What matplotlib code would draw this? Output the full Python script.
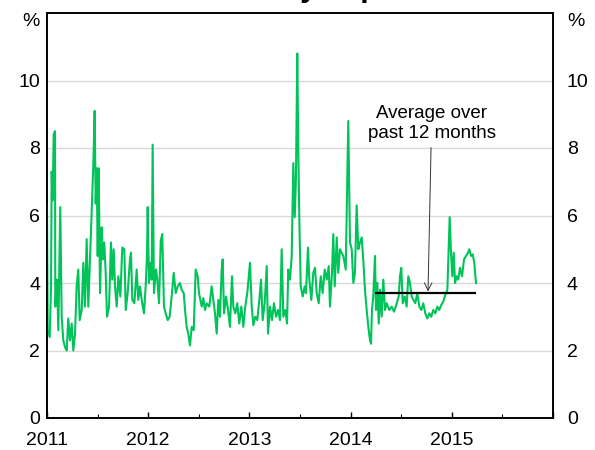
import numpy as np
import matplotlib
matplotlib.use('Agg')
import matplotlib.pyplot as plt

plt.rcParams['font.family'] = ['Liberation Sans', 'DejaVu Sans']

# Data
base_year = 2011
# time in years since the start of 2011
t_years = [
    0.000, 0.007, 0.027, 0.040, 0.046, 0.056, 0.066, 0.079, 0.082, 0.099,
    0.112, 0.131, 0.145, 0.161, 0.178, 0.195, 0.210, 0.227, 0.244, 0.260,
    0.277, 0.293, 0.309, 0.323, 0.343, 0.359, 0.375, 0.392, 0.408, 0.425,
    0.442, 0.458, 0.471, 0.481, 0.491, 0.501, 0.511, 0.524, 0.541, 0.553,
    0.566, 0.580, 0.593, 0.613, 0.632, 0.645, 0.659, 0.672, 0.689, 0.705,
    0.725, 0.744, 0.764, 0.778, 0.797, 0.820, 0.830, 0.843, 0.863, 0.886,
    0.902, 0.919, 0.936, 0.958, 0.975, 0.988, 0.995, 1.008, 1.021, 1.035,
    1.044, 1.057, 1.077, 1.090, 1.107, 1.124, 1.139, 1.156, 1.173, 1.193,
    1.212, 1.232, 1.252, 1.272, 1.292, 1.314, 1.331, 1.351, 1.364, 1.380,
    1.396, 1.413, 1.430, 1.450, 1.469, 1.489, 1.502, 1.529, 1.545, 1.561,
    1.578, 1.604, 1.627, 1.643, 1.660, 1.677, 1.693, 1.709, 1.726, 1.736,
    1.749, 1.769, 1.789, 1.808, 1.828, 1.841, 1.861, 1.880, 1.900, 1.920,
    1.940, 1.959, 1.979, 2.006, 2.023, 2.039, 2.058, 2.078, 2.098, 2.115,
    2.131, 2.151, 2.171, 2.184, 2.204, 2.223, 2.243, 2.263, 2.283, 2.302,
    2.319, 2.335, 2.355, 2.372, 2.384, 2.401, 2.418, 2.434, 2.448, 2.460,
    2.473, 2.483, 2.493, 2.507, 2.527, 2.546, 2.559, 2.579, 2.592, 2.612,
    2.631, 2.648, 2.665, 2.685, 2.705, 2.724, 2.744, 2.764, 2.784, 2.796,
    2.816, 2.829, 2.843, 2.863, 2.878, 2.895, 2.928, 2.952, 2.977, 2.994,
    3.011, 3.027, 3.043, 3.060, 3.076, 3.093, 3.110, 3.125, 3.142, 3.159,
    3.175, 3.192, 3.202, 3.211, 3.224, 3.241, 3.251, 3.264, 3.278, 3.291,
    3.307, 3.323, 3.340, 3.357, 3.382, 3.406, 3.429, 3.456, 3.475, 3.488,
    3.501, 3.515, 3.535, 3.554, 3.570, 3.587, 3.604, 3.620, 3.639, 3.659,
    3.679, 3.699, 3.718, 3.738, 3.758, 3.778, 3.797, 3.817, 3.837, 3.857,
    3.876, 3.896, 3.916, 3.936, 3.956, 3.969, 3.979, 3.992, 4.005, 4.019,
    4.032, 4.048, 4.064, 4.081, 4.101, 4.121, 4.140, 4.160, 4.173, 4.190,
    4.207, 4.222, 4.239,
]
vol = [
    6.3, 2.6, 2.4, 3.9, 7.3, 6.45, 8.4, 8.5, 3.3, 4.1,
    2.6, 6.25, 3.0, 2.3, 2.1, 2.0, 2.95, 2.3, 2.8, 2.0,
    2.5, 3.9, 4.4, 2.9, 3.2, 4.6, 3.3, 5.3, 3.3, 4.7,
    6.15, 7.55, 9.1, 6.35, 7.4, 4.8, 7.4, 3.7, 5.65, 4.7,
    5.2, 4.3, 3.0, 3.3, 5.2, 4.1, 5.0, 3.9, 3.3, 4.2,
    3.6, 5.05, 5.0, 3.2, 3.7, 4.7, 4.9, 3.5, 3.4, 4.4,
    3.5, 3.9, 3.5, 3.1, 3.9, 4.8, 6.25, 4.0, 4.6, 4.1,
    8.1, 3.7, 4.4, 4.1, 3.4, 5.25, 5.45, 3.3, 3.1, 2.9,
    3.0, 3.6, 4.3, 3.7, 3.9, 4.0, 3.8, 3.7, 3.2, 2.7,
    2.5, 2.15, 2.7, 2.6, 4.4, 4.2, 3.7, 3.3, 3.55, 3.2,
    3.4, 3.3, 3.9, 3.5, 3.1, 2.5, 3.5, 3.0, 4.4, 4.7,
    3.1, 3.6, 3.2, 2.7, 4.2, 3.3, 3.1, 3.4, 2.8, 3.3,
    2.7, 3.3, 3.7, 4.6, 3.3, 2.75, 3.0, 2.9, 3.5, 4.1,
    2.9, 3.4, 4.5, 2.5, 3.3, 2.9, 3.4, 3.0, 3.2, 2.9,
    5.0, 3.0, 3.2, 2.8, 4.4, 4.1, 4.8, 7.55, 5.95, 7.1,
    10.8, 8.0, 5.95, 3.9, 3.6, 3.9, 3.7, 5.05, 4.1, 3.5,
    4.3, 4.45, 3.7, 3.4, 4.2, 3.7, 4.4, 4.1, 4.5, 3.3,
    4.3, 5.45, 3.9, 5.35, 4.3, 5.0, 4.8, 4.4, 8.8, 5.2,
    5.0, 4.0, 4.3, 6.3, 5.0, 5.2, 5.35, 4.7, 3.8, 3.2,
    2.7, 2.3, 2.2, 3.2, 3.6, 4.8, 3.2, 4.0, 2.8, 3.8,
    3.0, 4.1, 3.2, 3.4, 3.2, 3.3, 3.15, 3.4, 3.6, 4.2,
    4.45, 3.4, 3.6, 3.3, 4.2, 4.0, 3.6, 3.5, 3.4, 3.7,
    3.3, 3.2, 3.4, 3.1, 2.95, 3.1, 3.0, 3.2, 3.1, 3.3,
    3.2, 3.35, 3.45, 3.65, 3.8, 5.0, 5.95, 4.9, 4.2, 4.9,
    4.0, 4.2, 4.1, 4.45, 4.2, 4.7, 4.8, 4.9, 5.0, 4.8,
    4.85, 4.6, 4.0,
]
avg_start, avg_end = 2014.24, 2015.24
avg_value = 3.7

year_ticks = [2011, 2012, 2013, 2014, 2015, 2016]
year_labels = ['2011', '2012', '2013', '2014', '2015', '']
y_ticks = [0, 2, 4, 6, 8, 10, 12]
y_labels = ['0', '2', '4', '6', '8', '10', '%']

dates = base_year + np.array(t_years)

fig = plt.figure(figsize=(5.95, 4.5), dpi=100)
ax = fig.add_axes([47 / 595, 32 / 450, 506 / 595, 405 / 450])

ax.plot(dates, vol, color='#00c35a', linewidth=1.5, zorder=3)
ax.hlines(avg_value, avg_start, avg_end, color='black', linewidth=1.6, zorder=4)

ax.annotate('Average over\npast 12 months', xy=(2014.765, 3.75),
            xytext=(2014.80, 8.72), ha='center', va='center', fontsize=13.5,
            arrowprops=dict(arrowstyle='->', color='#333333', lw=0.7,
                            shrinkA=2, shrinkB=0))

ax.set_xlim(2011, 2016)
ax.set_ylim(0, 12)
for yv in [2, 4, 6, 8, 10]:
    ax.axhline(yv, color='#d9d9d9', linewidth=1.0, zorder=1)

ax.set_xticks(year_ticks)
ax.set_xticklabels(year_labels)
ax.set_xticks([2011.5, 2012.5, 2013.5, 2014.5, 2015.5], minor=True)
ax.tick_params(axis='x', which='major', direction='in', length=4.5, width=1,
               labelsize=14, pad=10)
ax.tick_params(axis='x', which='minor', direction='in', length=3, width=0.8)

# left axis labels
ax.set_yticks(y_ticks)
ax.set_yticklabels(y_labels)
ax.tick_params(axis='y', length=0, labelsize=14, pad=5)

# right axis labels on a twin axis so the padding can differ
ax2 = ax.twinx()
ax2.set_ylim(0, 12)
ax2.set_yticks(y_ticks)
ax2.set_yticklabels(y_labels)
ax2.tick_params(axis='y', length=0, labelsize=14, pad=10)

# the unit labels sit just under the top edge
for a in (ax, ax2):
    for lab in a.yaxis.get_ticklabels():
        if lab.get_text() == '%':
            lab.set_va('top')
    for sp in a.spines.values():
        sp.set_color('black')
        sp.set_linewidth(1.2)

# title sits above the visible area, only its descenders show
fig.text(194 / 595, 1 + 3 / 450, 'Volatility Implied', fontsize=21.6,
         fontweight='bold', ha='left', va='baseline')

plt.savefig('out.png', dpi=100)
